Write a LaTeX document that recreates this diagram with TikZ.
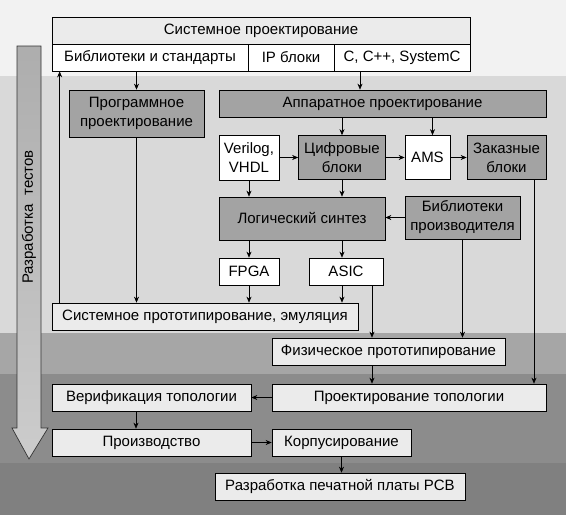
\documentclass[tikz,border=0pt]{standalone}
\usepackage{fontspec}
\setmainfont{Liberation Sans}
\usetikzlibrary{arrows.meta}

\definecolor{bandA}{HTML}{F2F2F2}
\definecolor{bandB}{HTML}{D9D9D9}
\definecolor{bandC}{HTML}{A6A6A6}
\definecolor{bandD}{HTML}{8C8C8C}
\definecolor{bandE}{HTML}{808080}
\definecolor{lightbox}{HTML}{EBEBEB}
\definecolor{darkbox}{HTML}{A3A3A3}

\begin{document}
\begin{tikzpicture}[x=1pt,y=-1pt,
        box/.style={draw,line width=0.7pt,inner sep=0pt,align=center,font=\fontsize{15}{19}\selectfont},
        wbox/.style={box,fill=white},
        lbox/.style={box,fill=lightbox},
        dbox/.style={box,fill=darkbox},
        arr/.style={-{Stealth[length=6pt,width=5pt,inset=2pt]},line width=0.6pt}]
        \useasboundingbox (0,0) rectangle (566,515);
        \fill[bandA] (0,0) rectangle (566,76);
        \fill[bandB] (0,76) rectangle (566,333);
        \fill[bandC] (0,333) rectangle (566,374);
        \fill[bandD] (0,374) rectangle (566,463);
        \fill[bandE] (0,463) rectangle (566,515);

        \shade[top color=black!32,bottom color=black!20,draw=black!80,line width=0.7pt]
            (17,46) -- (41,46) -- (41,428) -- (48,428) -- (29,459) -- (12,428) -- (17,428) -- cycle;
        \node[rotate=90,font=\fontsize{15}{19}\selectfont] (tests) at (29,217) {Разработка\ \ тестов};

        \node[lbox,minimum width=418pt,minimum height=27pt] (sysdes) at (261,30.5) {Системное проектирование};
        \node[wbox,minimum width=196pt,minimum height=27pt] (libstd) at (150,57.5) {Библиотеки и стандарты};
        \node[wbox,minimum width=86pt,minimum height=27pt] (ip) at (291,57.5) {IP блоки};
        \node[wbox,minimum width=136pt,minimum height=27pt] (cpp) at (402,57.5) {C, C++, SystemC};

        \node[dbox,minimum width=135pt,minimum height=47pt] (prog) at (136.5,113.5) {Программное\\проектирование};
        \node[dbox,minimum width=327pt,minimum height=27pt] (hw) at (382.5,103.5) {Аппаратное проектирование};
        \node[wbox,minimum width=60pt,minimum height=45pt] (verilog) at (249,157.5) {Verilog,\\VHDL};
        \node[dbox,minimum width=87pt,minimum height=44pt] (digital) at (342,157.5) {Цифровые\\блоки};
        \node[wbox,minimum width=45pt,minimum height=44pt] (ams) at (427.5,157.5) {AMS};
        \node[dbox,minimum width=79pt,minimum height=44pt] (custom) at (506.5,157.5) {Заказные\\блоки};
        \node[dbox,minimum width=166pt,minimum height=43pt] (logic) at (302,218.5) {Логический синтез};
        \node[dbox,minimum width=115pt,minimum height=43pt] (vendor) at (462.5,217.5) {Библиотеки\\производителя};
        \node[wbox,minimum width=60pt,minimum height=27pt] (fpga) at (249,271.5) {FPGA};
        \node[wbox,minimum width=74pt,minimum height=27pt] (asic) at (346,271.5) {ASIC};
        \node[lbox,minimum width=306pt,minimum height=27pt] (sysproto) at (205,316.5) {Системное прототипирование, эмуляция};

        \node[lbox,minimum width=233pt,minimum height=27pt] (phys) at (388.5,351.5) {Физическое прототипирование};
        \node[lbox,minimum width=274pt,minimum height=27pt] (layout) at (409,397.5) {Проектирование топологии};
        \node[lbox,minimum width=199pt,minimum height=27pt] (verif) at (151.5,397.5) {Верификация топологии};
        \node[lbox,minimum width=199pt,minimum height=27pt] (fab) at (151.5,442.5) {Производство};
        \node[lbox,minimum width=139pt,minimum height=27pt] (pack) at (341.5,442.5) {Корпусирование};
        \node[lbox,minimum width=250pt,minimum height=27pt] (pcb) at (340,486.5) {Разработка печатной платы PCB};

        \draw[arr] (prog.north |- libstd.south) -- (prog.north);
        \draw[arr] ([xshift=-42pt]cpp.south) -- ([xshift=-42pt]cpp.south |- hw.north);
        \draw[arr] ([xshift=8pt]sysproto.north west) -- ([xshift=8pt]sysproto.north west |- libstd.south);
        \draw[arr] (prog.south) -- (prog.south |- sysproto.north);
        \draw[arr] (digital.north |- hw.south) -- (digital.north);
        \draw[arr] ([xshift=5pt]ams.north |- hw.south) -- ([xshift=5pt]ams.north);
        \draw[arr] (verilog) -- (digital);
        \draw[arr] (digital) -- (ams);
        \draw[arr] (ams) -- (custom);
        \draw[arr] (verilog.south) -- (verilog.south |- logic.north);
        \draw[arr] (digital.south) -- (digital.south |- logic.north);
        \draw[arr] (vendor.west) -- (vendor.west -| logic.east);
        \draw[arr] (fpga.north |- logic.south) -- (fpga.north);
        \draw[arr] (digital.south |- logic.south) -- (digital.south |- asic.north);
        \draw[arr] (fpga.south) -- (fpga.south |- sysproto.north);
        \draw[arr] (digital.south |- asic.south) -- (digital.south |- sysproto.north);
        \draw[arr] ([xshift=26pt]asic.south) -- ([xshift=26pt]asic.south |- phys.north);
        \draw[arr] (vendor.south) -- (vendor.south |- phys.north);
        \draw[arr] ([xshift=27.5pt]custom.south) -- ([xshift=27.5pt]custom.south |- layout.north);
        \draw[arr] ([xshift=-16.5pt]phys.south) -- ([xshift=-16.5pt]phys.south |- layout.north);
        \draw[arr] (layout.west) -- (verif.east);
        \draw[arr] ([xshift=-15.5pt]verif.south) -- ([xshift=-15.5pt]verif.south |- fab.north);
        \draw[arr] (fab.east) -- (pack.west);
        \draw[arr] (pack.south) -- (pack.south |- pcb.north);
\end{tikzpicture}
\end{document}
